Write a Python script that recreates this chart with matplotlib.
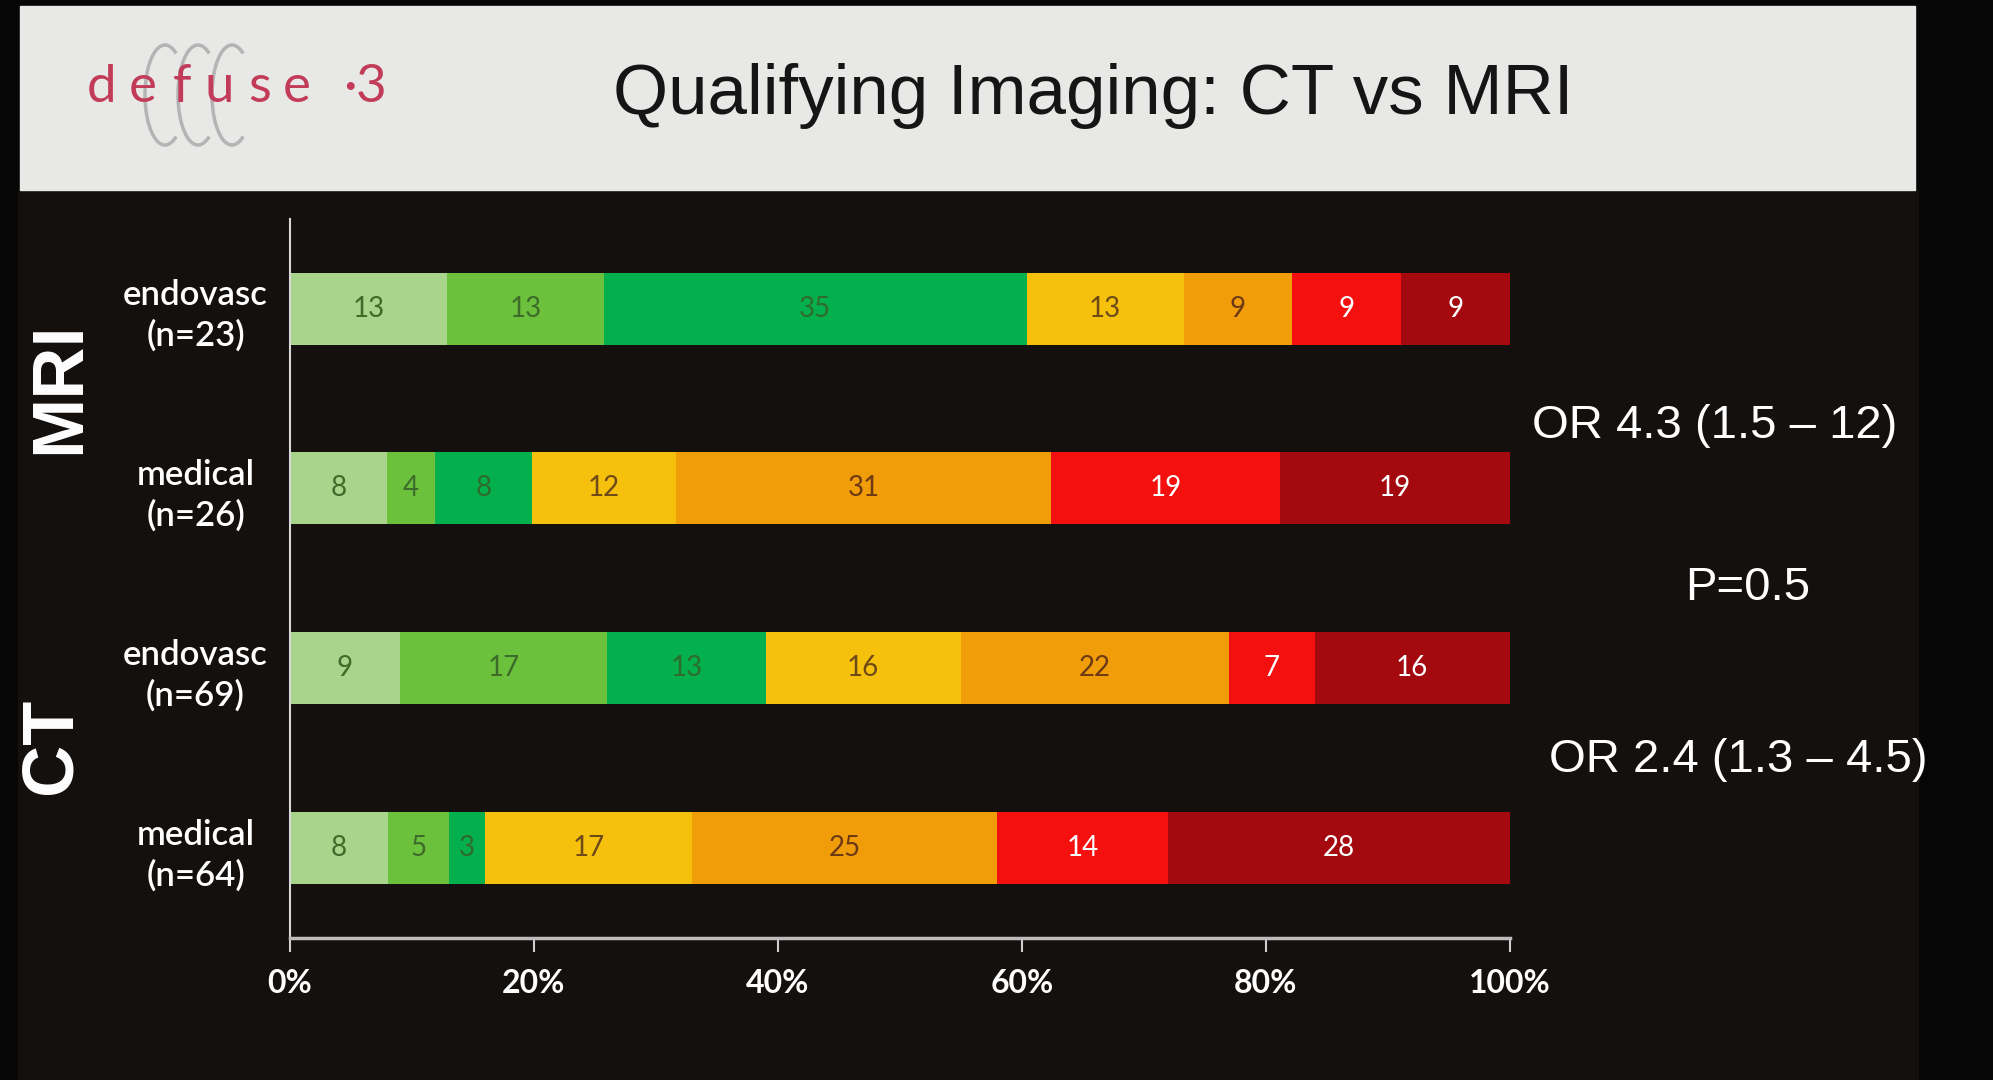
import numpy as np
import matplotlib.pyplot as plt
from matplotlib.patches import Rectangle, Arc

# rows, top to bottom
groups = ['endovasc\n(n=23)', 'medical\n(n=26)', 'endovasc\n(n=69)', 'medical\n(n=64)']

# percentage of patients per mRS score (0..6) in each row
mrs0 = [13, 8, 9, 8]
mrs1 = [13, 4, 17, 5]
mrs2 = [35, 8, 13, 3]
mrs3 = [13, 12, 16, 17]
mrs4 = [9, 31, 22, 25]
mrs5 = [9, 19, 7, 14]
mrs6 = [9, 19, 16, 28]

xticks = [0, 20, 40, 60, 80, 100]
xtick_labels = ['0%', '20%', '40%', '60%', '80%', '100%']

series = [mrs0, mrs1, mrs2, mrs3, mrs4, mrs5, mrs6]
colors = ['#a9d48c', '#6cc13c', '#04b04e', '#f6c10c', '#f19d0a', '#f51010', '#a3090e']
text_colors = ['#3d6b2a', '#3d6b2a', '#2f6b2a', '#6e4a18', '#6e3a14', 'white', 'white']

fig = plt.figure(figsize=(19.93, 10.8), dpi=100, facecolor='#070606')

# background layer in pixel coordinates (slide, header band, logo, notes)
bg = fig.add_axes([0, 0, 1, 1])
bg.set_xlim(0, 1993)
bg.set_ylim(1080, 0)
bg.axis('off')
bg.add_patch(Rectangle((18, 190), 1900, 890, color='#14100e'))
bg.add_patch(Rectangle((20, 6), 1895, 184, color='#e8e8e6'))

# defuse 3 logo
for cx in [165, 198, 232]:
    bg.add_patch(Arc((cx, 95), 40, 100, theta1=75, theta2=285, color='#b4b4b4', lw=2.5))
logo = ['d', 'e', 'f', 'u', 's', 'e', '·', '3']
logo_x = [102, 143, 182, 219, 260, 297, 350, 371]
for ch, lx in zip(logo, logo_x):
    bg.text(lx, 88, ch, color='#c23c5a', fontsize=38, family='Lato',
            ha='center', va='center')

bg.text(1093, 96, 'Qualifying Imaging: CT vs MRI', color='#151515', fontsize=51,
        family='Liberation Sans', ha='center', va='center')

bg.text(60, 388, 'MRI', color='white', fontsize=52, fontweight='bold',
        family='Liberation Sans', rotation=90, ha='center', va='center')
bg.text(52, 746, 'CT', color='white', fontsize=52, fontweight='bold',
        family='Liberation Sans', rotation=90, ha='center', va='center')

bg.text(1715, 426, 'OR 4.3 (1.5 – 12)', color='white', fontsize=34,
        family='Liberation Sans', ha='center', va='center')
bg.text(1748, 588, 'P=0.5', color='white', fontsize=34,
        family='Liberation Sans', ha='center', va='center')
bg.text(1738, 760, 'OR 2.4 (1.3 – 4.5)', color='white', fontsize=34,
        family='Liberation Sans', ha='center', va='center')

# chart
ax = fig.add_axes([0.1455, 0.1315, 0.612, 0.666])
ax.set_facecolor('none')

data = np.array(series, dtype=float)
totals = data.sum(axis=0)
y = np.arange(len(groups))[::-1]
left = np.zeros(len(groups))
for vals, c, tc in zip(data, colors, text_colors):
    pct = vals / totals * 100
    ax.barh(y, pct, left=left, height=0.4, color=c)
    for yi, l, w, v in zip(y, left, pct, vals):
        ax.text(l + w / 2, yi, '%d' % v, color=tc, fontsize=20, family='Lato',
                ha='center', va='center')
    left += pct

ax.set_xlim(0, 100)
ax.set_ylim(-0.5, 3.5)
ax.set_xticks(xticks)
ax.set_xticklabels(xtick_labels)
ax.set_yticks(y)
ax.set_yticklabels(groups, multialignment='center', ha='center', linespacing=1.3)

ax.tick_params(axis='x', colors='#cfcfcf', length=10, width=1.5, pad=12,
               labelsize=23, labelcolor='white')
ax.tick_params(axis='y', length=0, pad=68, labelsize=25, labelcolor='white')
for lab in ax.get_xticklabels():
    lab.set_family('Lato')
    lab.set_fontweight('bold')
for lab in ax.get_yticklabels():
    lab.set_family('Lato')
    lab.set_fontweight('semibold')

for s in ['top', 'right']:
    ax.spines[s].set_visible(False)
ax.spines['left'].set_color('#d8d8d8')
ax.spines['left'].set_linewidth(1.5)
ax.spines['bottom'].set_color('#bdbdbd')
ax.spines['bottom'].set_linewidth(2.5)

fig.savefig('out.png', dpi=100, facecolor=fig.get_facecolor())
